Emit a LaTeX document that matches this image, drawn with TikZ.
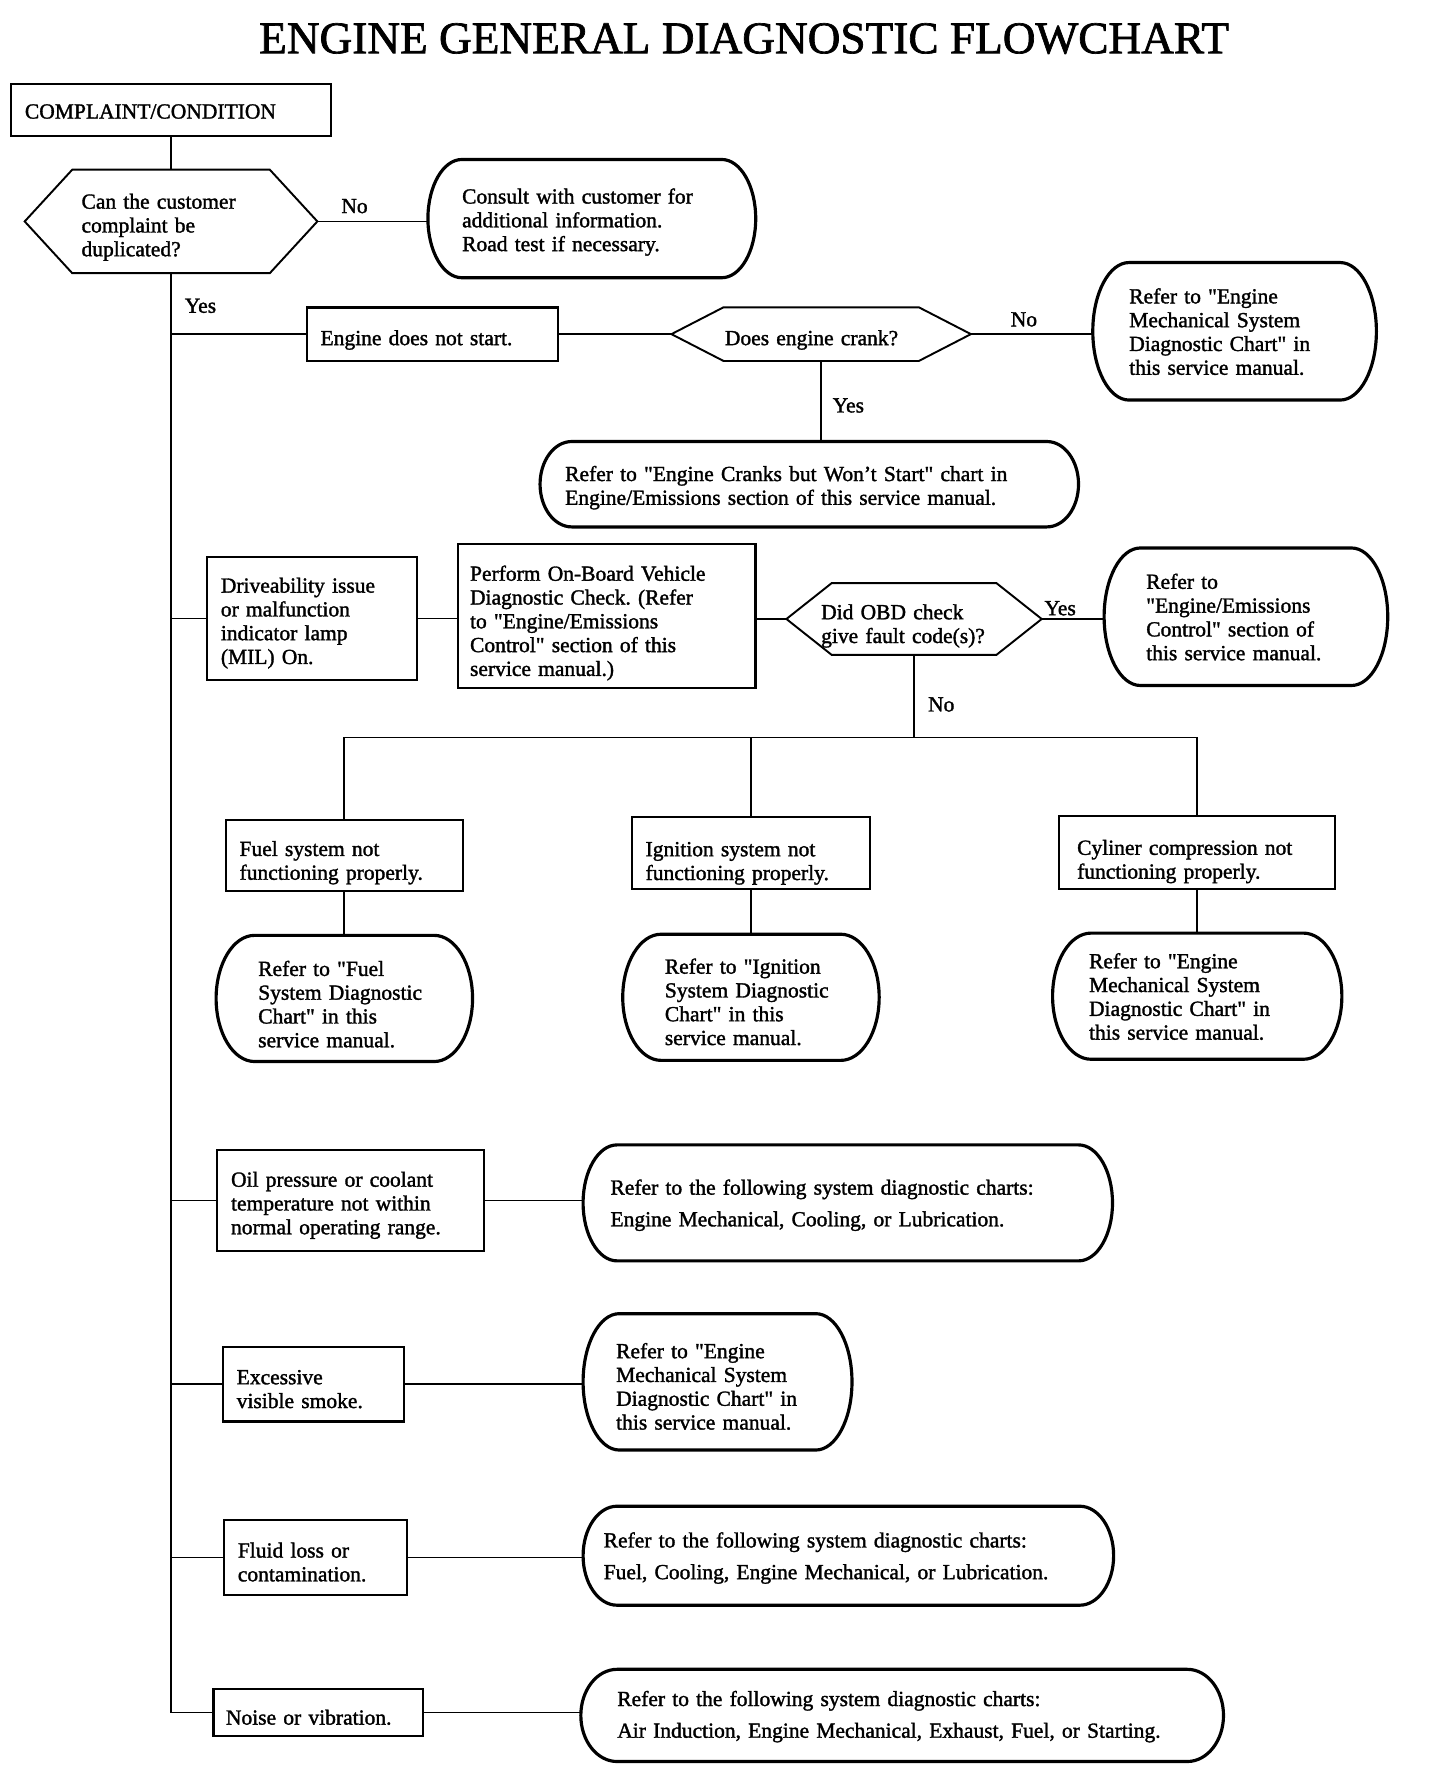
\documentclass[tikz,border=0pt]{standalone}
\usepackage{fontspec}
\setmainfont{Liberation Serif}[FakeBold=1.5]
\usetikzlibrary{calc}
\frenchspacing
\newcommand\qmk{\textquotedbl}
\newcommand\stadium[2]{%
  \draw[sline] let \p1=(#1.north east), \p2=(#1.south west), \n1={(\y1-\y2)/2} in
    (\x2+#2pt,\y1) -- (\x1-#2pt,\y1)
    arc[start angle=90,end angle=-90,x radius=#2pt,y radius=\n1]
    -- (\x2+#2pt,\y2)
    arc[start angle=270,end angle=90,x radius=#2pt,y radius=\n1] -- cycle;}
\newcommand\hexout[2]{%
  \draw[hline] (#1.west) -- ([xshift=#2pt]#1.north west) -- ([xshift=-#2pt]#1.north east)
    -- (#1.east) -- ([xshift=-#2pt]#1.south east) -- ([xshift=#2pt]#1.south west) -- cycle;}
\begin{document}
\begin{tikzpicture}[x=1pt,y=-1pt,
  every node/.style={inner sep=0pt, font=\fontsize{19}{21}\selectfont\frenchspacing},
  bx/.style={draw, line width=1.8pt, rectangle, align=left, text height=21.5pt},
  st/.style={align=left, text height=21.5pt},
  hx/.style={align=left, text height=23.5pt},
  lab/.style={anchor=center},
  ln/.style={line width=1.5pt},
  sline/.style={line width=2.8pt, line join=round},
  hline/.style={line width=1.7pt, line join=miter},
]
\useasboundingbox (0,0) rectangle (1285,1568);

\node[font=\fontsize{40}{44}\selectfont, anchor=base] (title) at (657,47) {ENGINE GENERAL DIAGNOSTIC FLOWCHART};

% top
\node[bx, minimum width=282pt, minimum height=46pt, text width=258pt, text height=15.5pt] (cc) at (151,97) {COMPLAINT/CONDITION};
\node[hx, minimum width=258pt, minimum height=91pt, text width=158pt] (q1) at (151,195.5) {Can the customer\\complaint be\\duplicated?};
\hexout{q1}{42}
\node[st, minimum width=289pt, minimum height=104pt, text width=229pt, text height=19.5pt] (r1) at (522.5,193) {Consult with customer for\\additional information.\\Road test if necessary.};
\stadium{r1}{30}

% engine does not start
\node[bx, minimum width=222pt, minimum height=47pt, text width=198pt, text height=23.5pt] (b1) at (382,295) {Engine does not start.};
\node[hx, minimum width=264pt, minimum height=47pt, text width=170pt] (q2) at (725,295) {Does engine crank?};
\hexout{q2}{46}
\node[st, minimum width=250pt, minimum height=121pt, text width=186pt, text height=14pt] (r2) at (1090,292.5) {Refer to \qmk Engine\\Mechanical System\\Diagnostic Chart\qmk{} in\\this service manual.};
\stadium{r2}{32}
\node[st, minimum width=475pt, minimum height=75pt, text width=431pt, text height=19.5pt] (r3) at (714.5,427.5) {Refer to \qmk Engine Cranks but Won't Start\qmk{} chart in\\Engine/Emissions section of this service manual.};
\stadium{r3}{28}

% driveability
\node[bx, minimum width=185pt, minimum height=109pt, text width=161pt] (b2) at (275.5,546) {Driveability issue\\or malfunction\\indicator lamp\\(MIL) On.};
\node[bx, minimum width=263pt, minimum height=127pt, text width=241pt, text height=25.5pt] (b3) at (535.5,544) {Perform On-Board Vehicle\\Diagnostic Check. (Refer\\to \qmk Engine/Emissions\\Control\qmk{} section of this\\service manual.)};
\node[hx, minimum width=225pt, minimum height=63pt, text width=164pt, text height=25.5pt] (q3) at (807,546.5) {Did OBD check\\give fault code(s)?};
\hexout{q3}{40}
\node[st, minimum width=250pt, minimum height=121pt, text width=176pt, text height=14pt] (r4) at (1100,544.5) {Refer to\\\qmk Engine/Emissions\\Control\qmk{} section of\\this service manual.};
\stadium{r4}{32}
\coordinate (j) at (807,651);

\node[bx, minimum width=209pt, minimum height=63pt, text width=185pt, text height=25.5pt] (f1) at (304,755.5) {Fuel system not\\functioning properly.};
\node[bx, minimum width=210pt, minimum height=64pt, text width=186pt, text height=31pt] (f2) at (663,753) {Ignition system not\\functioning properly.};
\node[bx, minimum width=244pt, minimum height=65pt, text width=212pt, text height=29.5pt] (f3) at (1057,752.5) {Cyliner compression not\\functioning properly.};

\node[st, minimum width=226pt, minimum height=111pt, text width=152pt, text height=23.5pt] (g1) at (304,881.5) {Refer to \qmk Fuel\\System Diagnostic\\Chart\qmk{} in this\\service manual.};
\stadium{g1}{34}
\node[st, minimum width=226pt, minimum height=111pt, text width=152pt] (g2) at (663,880.5) {Refer to \qmk Ignition\\System Diagnostic\\Chart\qmk{} in this\\service manual.};
\stadium{g2}{34}
\node[st, minimum width=255pt, minimum height=111pt, text width=191pt, text height=14pt] (g3) at (1057,879.5) {Refer to \qmk Engine\\Mechanical System\\Diagnostic Chart\qmk{} in\\this service manual.};
\stadium{g3}{34}

% oil pressure
\node[bx, minimum width=235pt, minimum height=89pt, text width=211pt] (b4) at (309.5,1060) {Oil pressure or coolant\\temperature not within\\normal operating range.};
\node[st, minimum width=467pt, minimum height=102pt, text width=419pt, text height=17.5pt] (r5) at (748.5,1062) {Refer to the following system diagnostic charts:\\[7pt]Engine Mechanical, Cooling, or Lubrication.};
\stadium{r5}{30}

% smoke
\node[bx, minimum width=160pt, minimum height=66pt, text width=136pt] (b5) at (277,1222) {Excessive\\visible smoke.};
\node[st, minimum width=237pt, minimum height=120pt, text width=179pt] (r6) at (633.5,1220) {Refer to \qmk Engine\\Mechanical System\\Diagnostic Chart\qmk{} in\\this service manual.};
\stadium{r6}{32}

% fluid
\node[bx, minimum width=161pt, minimum height=66pt, text width=137pt] (b6) at (278.5,1375) {Fluid loss or\\contamination.};
\node[st, minimum width=468pt, minimum height=87pt, text width=432pt, text height=17.5pt] (r7) at (749,1373.5) {Refer to the following system diagnostic charts:\\[7pt]Fuel, Cooling, Engine Mechanical, or Lubrication.};
\stadium{r7}{30}

% noise
\node[bx, minimum width=185pt, minimum height=41pt, text width=163pt] (b7) at (281,1512) {Noise or vibration.};
\node[st, minimum width=567pt, minimum height=81pt, text width=503pt, text height=15.5pt] (r8) at (796.5,1514.5) {Refer to the following system diagnostic charts:\\[7pt]Air Induction, Engine Mechanical, Exhaust, Fuel, or Starting.};
\stadium{r8}{32}

% labels
\node[lab] (l1) at (313,182) {No};
\node[lab] (l2) at (177,270) {Yes};
\node[lab] (l3) at (904,282) {No};
\node[lab] (l4) at (749,358) {Yes};
\node[lab] (l5) at (936,537) {Yes};
\node[lab] (l6) at (831,622) {No};

% connectors
\draw[ln] (cc.south) -- (cc.south |- q1.north);
\draw[ln] (q1.east) -- (q1.east -| r1.west);
\draw[ln] (q1.south) |- (b7.west);
\draw[ln] (q1.south |- b1.west) -- (b1.west);
\draw[ln] (b1.east) -- (q2.west);
\draw[ln] (q2.east) -- (q2.east -| r2.west);
\draw[ln] (q2.south) -- (q2.south |- r3.north);
\draw[ln] (q1.south |- b2.west) -- (b2.west);
\draw[ln] (b2.east) -- (b2.east -| b3.west);
\draw[ln] (q3.west -| b3.east) -- (q3.west);
\draw[ln] (q3.east) -- (q3.east -| r4.west);
\draw[ln] (q3.south) -- (j);
\draw[ln] (f1.north) -- (f1.north |- j) -- (f3.north |- j) -- (f3.north);
\draw[ln] (f2.north) -- (f2.north |- j);
\draw[ln] (f1.south) -- (g1.north);
\draw[ln] (f2.south) -- (g2.north);
\draw[ln] (f3.south) -- (g3.north);
\draw[ln] (q1.south |- b4.west) -- (b4.west);
\draw[ln] (b4.east) -- (b4.east -| r5.west);
\draw[ln] (q1.south |- b5.west) -- (b5.west);
\draw[ln] (b5.east) -- (b5.east -| r6.west);
\draw[ln] (q1.south |- b6.west) -- (b6.west);
\draw[ln] (b6.east) -- (b6.east -| r7.west);
\draw[ln] (b7.east) -- (b7.east -| r8.west);
\end{tikzpicture}
\end{document}
